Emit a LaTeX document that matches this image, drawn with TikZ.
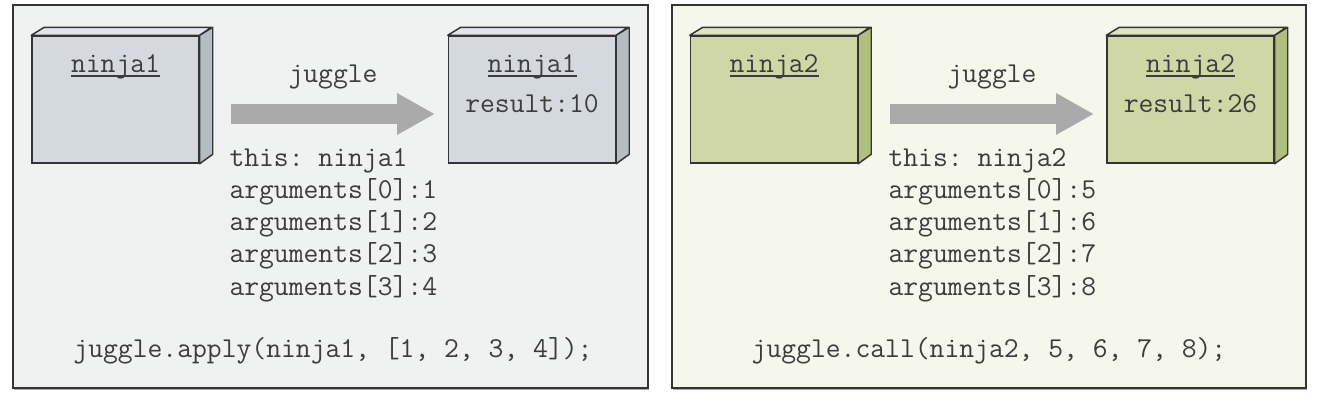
\documentclass[tikz,border=0pt]{standalone}
\usepackage{fontspec}
\usetikzlibrary{arrows.meta}

\definecolor{inkgray}{RGB}{60,60,60}
\definecolor{edgegray}{RGB}{52,52,52}
\definecolor{arrowgray}{RGB}{170,170,170}
\definecolor{panelleft}{RGB}{240,241,241}
\definecolor{panelright}{RGB}{245,246,236}
\definecolor{greyfront}{RGB}{211,217,222}
\definecolor{greytop}{RGB}{226,230,233}
\definecolor{greyside}{RGB}{181,189,196}
\definecolor{greenfront}{RGB}{207,215,166}
\definecolor{greentop}{RGB}{222,228,192}
\definecolor{greenside}{RGB}{176,191,126}

\newcommand\objname[1]{\setbox0\hbox{#1}\rlap{\rule[-3.8pt]{\wd0}{1.3pt}}\box0}

\tikzset{every picture/.style={line width=0.75pt}}
\tikzset{
  panel/.style={draw=edgegray, line width=1.1pt},
  objbox/.style={draw=edgegray, line width=1.1pt, inner sep=0pt, minimum width=125.25pt, minimum height=95.25pt},
  face/.style={draw=edgegray, line width=1.1pt, line join=round},
  code/.style={inner sep=0pt, text=inkgray, font=\ttfamily\fontsize{21.6}{26}\selectfont\frenchspacing},
  juggle/.style={draw=arrowgray, line width=15pt, -{Triangle[length=28.5pt,width=29.25pt]}},
}

\begin{document}
\begin{tikzpicture}[x=0.75pt,y=0.75pt,yscale=-1,xscale=1]
	\useasboundingbox (0,0) rectangle (1318,400);
	
	%Shape: Rectangle [id:panel1] 
	\draw [panel, fill=panelleft] (13,5) rectangle (648,388) ;
	\draw [arrowgray, line width=0.9pt] (14,389.8) -- (649,389.8) ;
	%Shape: Rectangle [id:panel2] 
	\draw [panel, fill=panelright] (672,5) rectangle (1306,388) ;
	\draw [arrowgray, line width=0.9pt] (673,389.8) -- (1307,389.8) ;
	
	%Shape: Box [id:ninja1in] 
	\node [objbox, fill=greyfront] (ninja1in) at (115.5,99.5) {};
	\draw [face, fill=greytop] (ninja1in.north west) -- ++(13,-8) -- ++(167,0) -- (ninja1in.north east) -- cycle ;
	\draw [face, fill=greyside] (ninja1in.north east) -- ++(13,-8) -- ++(0,127) -- (ninja1in.south east) -- cycle ;
	%Shape: Box [id:ninja1out] 
	\node [objbox, fill=greyfront] (ninja1out) at (532,99.5) {};
	\draw [face, fill=greytop] (ninja1out.north west) -- ++(13,-8) -- ++(167,0) -- (ninja1out.north east) -- cycle ;
	\draw [face, fill=greyside] (ninja1out.north east) -- ++(13,-8) -- ++(0,127) -- (ninja1out.south east) -- cycle ;
	%Shape: Box [id:ninja2in] 
	\node [objbox, fill=greenfront] (ninja2in) at (774,99.5) {};
	\draw [face, fill=greentop] (ninja2in.north west) -- ++(13,-8) -- ++(167,0) -- (ninja2in.north east) -- cycle ;
	\draw [face, fill=greenside] (ninja2in.north east) -- ++(13,-8) -- ++(0,127) -- (ninja2in.south east) -- cycle ;
	%Shape: Box [id:ninja2out] 
	\node [objbox, fill=greenfront] (ninja2out) at (1190.5,99.5) {};
	\draw [face, fill=greentop] (ninja2out.north west) -- ++(13,-8) -- ++(167,0) -- (ninja2out.north east) -- cycle ;
	\draw [face, fill=greenside] (ninja2out.north east) -- ++(13,-8) -- ++(0,127) -- (ninja2out.south east) -- cycle ;
	
	%Arrows [id:apply] 
	\coordinate (apply from) at (231,114) ;
	\coordinate (apply to) at (435,114) ;
	\draw [juggle] (apply from) -- (apply to) ;
	%Arrows [id:call] 
	\coordinate (call from) at (890,114) ;
	\coordinate (call to) at (1094,114) ;
	\draw [juggle] (call from) -- (call to) ;
	
	% Text Node
	\node [code, anchor=base] (name1in) at (115.5,72) {\objname{ninja1}};
	% Text Node
	\node [code, anchor=base] (name1out) at (532,72) {\objname{ninja1}};
	% Text Node
	\node [code, anchor=base] (result1) at (532,112) {result:10};
	% Text Node
	\node [code, anchor=base] (juggle1) at (333,82) {juggle};
	% Text Node
	\node [code, anchor=base west] (this1) at (229,166) {this: ninja1};
	\node [code, anchor=base west] (arg10) at (229,198.3) {arguments[0]:1};
	\node [code, anchor=base west] (arg11) at (229,230.6) {arguments[1]:2};
	\node [code, anchor=base west] (arg12) at (229,262.9) {arguments[2]:3};
	\node [code, anchor=base west] (arg13) at (229,295.2) {arguments[3]:4};
	% Text Node
	\node [code, anchor=base] (apply1) at (333,357) {juggle.apply(ninja1, [1, 2, 3, 4]);};
	
	% Text Node
	\node [code, anchor=base] (name2in) at (774,72) {\objname{ninja2}};
	% Text Node
	\node [code, anchor=base] (name2out) at (1190.5,72) {\objname{ninja2}};
	% Text Node
	\node [code, anchor=base] (result2) at (1190.5,112) {result:26};
	% Text Node
	\node [code, anchor=base] (juggle2) at (992,82) {juggle};
	% Text Node
	\node [code, anchor=base west] (this2) at (888,166) {this: ninja2};
	\node [code, anchor=base west] (arg20) at (888,198.3) {arguments[0]:5};
	\node [code, anchor=base west] (arg21) at (888,230.6) {arguments[1]:6};
	\node [code, anchor=base west] (arg22) at (888,262.9) {arguments[2]:7};
	\node [code, anchor=base west] (arg23) at (888,295.2) {arguments[3]:8};
	% Text Node
	\node [code, anchor=base] (call2) at (989,357) {juggle.call(ninja2, 5, 6, 7, 8);};
	
\end{tikzpicture}
\end{document}
